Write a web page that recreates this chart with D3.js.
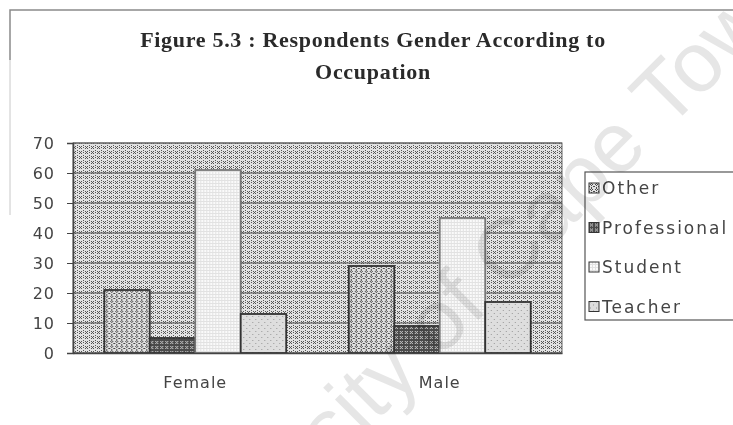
<!DOCTYPE html>
<html><head><meta charset="utf-8">
<script src="https://cdn.jsdelivr.net/npm/d3@7"></script>
<style>body{margin:0;background:#fff}svg{display:block}</style>
</head><body>
<svg id="chart" width="733" height="425"></svg>
<script>
const categories = ["Female", "Male"];
const seriesNames = ["Other", "Professional", "Student", "Teacher"];
const otherValues = [21, 29];
const professionalValues = [5, 9];
const studentValues = [61, 45];
const teacherValues = [13, 17];
const yTicks = [0, 10, 20, 30, 40, 50, 60, 70];
const titleLines = ["Figure 5.3 : Respondents Gender According to", "Occupation"];
const watermarkParts = ["University of Cape", "Town"];

(function () {
const seriesValues = [otherValues, professionalValues, studentValues, teacherValues];
const svg = d3.select("#chart");
const defs = svg.append("defs");

function pat(id, w, h, base, dots, dotColor) {
  const p = defs.append("pattern").attr("id", id).attr("width", w).attr("height", h)
    .attr("patternUnits", "userSpaceOnUse");
  p.append("rect").attr("width", w).attr("height", h).attr("fill", base);
  dots.forEach(d => p.append("rect").attr("x", d[0]).attr("y", d[1]).attr("width", 1).attr("height", 1).attr("fill", dotColor));
}
pat("bg", 6, 5, "#e2e2e2", [[1,1],[3,1],[2,2],[1,3],[3,3],[5,0],[5,2]], "#555");
pat("pOther", 5, 5, "#e0e0e0", [[1,1],[2,0],[3,1],[2,2],[0,3],[4,3],[2,4]], "#4a4a4a");
pat("pProf", 5, 5, "#4a4a4a", [[1,1],[3,1],[2,2],[1,3],[3,3]], "#d0d0d0");
(function(){
  const p = defs.append("pattern").attr("id","pStud").attr("width",3).attr("height",3).attr("patternUnits","userSpaceOnUse");
  p.append("rect").attr("width",3).attr("height",3).attr("fill","#fafafa");
  p.append("rect").attr("x",0).attr("y",0).attr("width",3).attr("height",1).attr("fill","#e2e2e2");
  p.append("rect").attr("x",0).attr("y",0).attr("width",1).attr("height",3).attr("fill","#e2e2e2");
})();
pat("pTeach", 6, 6, "#dedede", [[1,1],[4,4]], "#999");
const fills = ["url(#pOther)", "url(#pProf)", "url(#pStud)", "url(#pTeach)"];
const strokes = ["#333", "#333", "#777", "#333"];

// frame
svg.append("path").attr("d", "M10,60 L10,10 L733,10").attr("fill", "none").attr("stroke", "#8a8a8a").attr("stroke-width", 1.5);
svg.append("path").attr("d", "M10,60 L10,215").attr("fill", "none").attr("stroke", "#c8c8c8").attr("stroke-width", 1);

// title
svg.append("g").selectAll("text").data(titleLines).join("text")
  .attr("x", 373).attr("y", (d, i) => 47 + i * 32)
  .attr("text-anchor", "middle")
  .attr("font-family", "Liberation Serif, Times New Roman, serif")
  .attr("font-weight", "bold").attr("font-size", 22).attr("letter-spacing", 0.7).attr("fill", "#2a2a2a")
  .text(d => d);

const pl = 73, pr = 562, pt = 143, pb = 353;
const x0 = d3.scaleBand().domain(categories).range([pl, pr]).paddingInner(0.256).paddingOuter(0.128);
const x1 = d3.scaleBand().domain(seriesNames).range([0, x0.bandwidth()]);
const y = d3.scaleLinear().domain([0, 70]).range([pb, pt]);

svg.append("rect").attr("x", pl).attr("y", pt).attr("width", pr - pl).attr("height", pb - pt)
  .attr("fill", "url(#bg)");
svg.append("g").selectAll("line").data(yTicks).join("line")
  .attr("x1", pl).attr("x2", pr).attr("y1", d => y(d)).attr("y2", d => y(d))
  .attr("stroke", "#555").attr("stroke-width", 1);
svg.append("rect").attr("x", pl).attr("y", pt).attr("width", pr - pl).attr("height", pb - pt)
  .attr("fill", "none").attr("stroke", "#666").attr("stroke-width", 1);

const groups = svg.append("g").selectAll("g").data(categories).join("g")
  .attr("transform", d => `translate(${x0(d)},0)`);
groups.selectAll("rect").data((c, ci) => seriesNames.map((s, si) => ({s, si, v: seriesValues[si][ci]})))
  .join("rect")
  .attr("x", d => x1(d.s)).attr("width", x1.bandwidth())
  .attr("y", d => y(d.v)).attr("height", d => y(0) - y(d.v))
  .attr("fill", d => fills[d.si]).attr("stroke", d => strokes[d.si]).attr("stroke-width", 1.8);

const yAxis = d3.axisLeft(y).tickValues(yTicks).tickSize(6).tickPadding(12);
const ya = svg.append("g").attr("transform", `translate(${pl},0)`).call(yAxis);
ya.select(".domain").attr("stroke", "#444").attr("stroke-width", 1.5);
ya.selectAll(".tick line").attr("stroke", "#444");
ya.selectAll("text").attr("font-family", "DejaVu Sans, sans-serif").attr("font-size", 16)
  .attr("letter-spacing", 1).attr("fill", "#444").attr("dy", "0.36em");

const xa = svg.append("g").attr("transform", `translate(0,${pb})`)
  .call(d3.axisBottom(x0).tickSize(0).tickPadding(24));
xa.select(".domain").attr("stroke", "#444").attr("stroke-width", 1.5);
xa.selectAll("text").attr("font-family", "DejaVu Sans, sans-serif").attr("font-size", 16)
  .attr("letter-spacing", 1).attr("fill", "#444");

const lg = svg.append("g");
lg.append("rect").attr("x", 585).attr("y", 172).attr("width", 160).attr("height", 148)
  .attr("fill", "#fff").attr("stroke", "#555").attr("stroke-width", 1.2);
const li = lg.selectAll("g.item").data(seriesNames).join("g").attr("class", "item")
  .attr("transform", (d, i) => `translate(589,${188 + i * 39.5})`);
li.append("rect").attr("x", 0).attr("y", -5).attr("width", 10).attr("height", 10)
  .attr("fill", (d, i) => fills[i]).attr("stroke", "#333").attr("stroke-width", 1);
li.append("text").attr("x", 13).attr("y", 0).attr("dy", "0.36em")
  .attr("font-family", "DejaVu Sans, sans-serif").attr("font-size", 17).attr("letter-spacing", 2)
  .attr("fill", "#444").text(d => d);

// faint watermark drawn on top (multiply so it only shows on light areas)
const wm = svg.append("g").attr("transform", "translate(667,131) rotate(-45)")
  .style("mix-blend-mode", "multiply").attr("pointer-events", "none");
wm.selectAll("text").data(watermarkParts).join("text")
  .attr("x", (d, i) => i === 0 ? -24 : 0).attr("y", 0)
  .attr("text-anchor", (d, i) => i === 0 ? "end" : "start")
  .attr("font-family", "Liberation Sans, Arial, sans-serif").attr("font-size", 85)
  .attr("fill", "#e6e6e6")
  .text(d => d);
})();
</script>
</body></html>
